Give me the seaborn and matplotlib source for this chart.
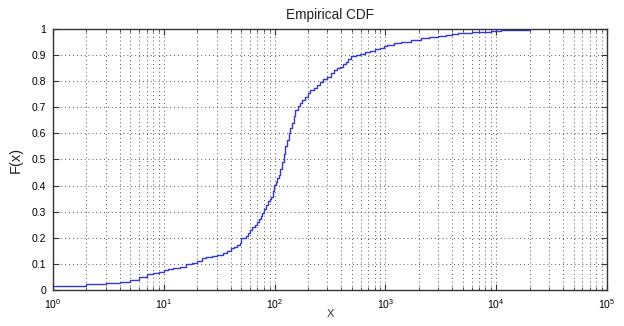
import matplotlib
matplotlib.use("Agg")
import matplotlib.pyplot as plt
import seaborn as sns
from matplotlib.ticker import LogLocator, NullFormatter, MultipleLocator, FormatStrFormatter

# Empirical CDF sample points (x value, cumulative fraction)
x_values = [1, 2, 3, 4, 5, 6, 7, 8, 9, 10, 11, 12, 14, 16, 18, 20, 22, 24, 27,
            30, 34, 37, 40, 43, 46, 49, 50, 55, 58, 60, 63, 66, 69, 72, 75, 77,
            80, 83, 87, 90, 93, 96, 98, 102, 106, 110, 113, 117, 121, 125, 129,
            134, 139, 144, 149, 154, 162, 170, 178, 190, 200, 210, 225, 240, 258,
            275, 298, 320, 342, 365, 392, 415, 437, 460, 486, 540, 596, 660, 733,
            810, 900, 970, 1040, 1200, 1370, 1700, 2100, 2500, 3000, 3500, 4000,
            4500, 6000, 7500, 9000, 11000, 20000]
cdf_values = [0.015, 0.023, 0.027, 0.031, 0.038, 0.051, 0.061, 0.065, 0.070, 0.075,
              0.079, 0.083, 0.089, 0.098, 0.105, 0.113, 0.122, 0.128, 0.131, 0.136,
              0.142, 0.148, 0.160, 0.166, 0.172, 0.179, 0.198, 0.208, 0.218, 0.230,
              0.240, 0.250, 0.262, 0.272, 0.285, 0.294, 0.310, 0.326, 0.340, 0.350,
              0.357, 0.380, 0.402, 0.415, 0.430, 0.440, 0.465, 0.490, 0.520, 0.550,
              0.575, 0.600, 0.620, 0.639, 0.665, 0.690, 0.705, 0.715, 0.728, 0.740,
              0.755, 0.766, 0.775, 0.787, 0.798, 0.808, 0.817, 0.830, 0.843, 0.850,
              0.856, 0.866, 0.875, 0.886, 0.897, 0.899, 0.903, 0.910, 0.917, 0.922,
              0.926, 0.933, 0.939, 0.946, 0.952, 0.958, 0.964, 0.968, 0.972, 0.976,
              0.980, 0.984, 0.987, 0.990, 0.994, 0.997, 1.000]

sns.set_theme(style="white")
plt.rcParams["font.family"] = ["Liberation Sans", "DejaVu Sans"]
plt.rcParams["mathtext.fontset"] = "custom"
plt.rcParams["mathtext.rm"] = "Liberation Sans"
plt.rcParams["mathtext.it"] = "Liberation Sans"

fig = plt.figure(figsize=(6.24, 3.26), dpi=100)
fig.patch.set_facecolor("white")
ax = fig.add_axes([53 / 624, 1 - 290 / 326, 554 / 624, 261 / 326])

sns.lineplot(x=x_values, y=cdf_values, ax=ax, drawstyle="steps-post",
             estimator=None, color="#3535dc", linewidth=1.0)

ax.set_xscale("log")
ax.set_xlim(1, 1e5)
ax.set_ylim(0, 1)

ax.xaxis.set_major_locator(LogLocator(base=10, numticks=10))
ax.xaxis.set_minor_locator(LogLocator(base=10, subs=range(2, 10), numticks=100))
ax.xaxis.set_minor_formatter(NullFormatter())
ax.yaxis.set_major_locator(MultipleLocator(0.1))
ax.yaxis.set_major_formatter(FormatStrFormatter("%g"))

grid_kw = dict(color="#555555", linestyle=(0, (1, 3)), linewidth=0.7)
ax.grid(True, which="major", axis="both", **grid_kw)
ax.grid(True, which="minor", axis="x", **grid_kw)
ax.set_axisbelow(True)

for side in ax.spines.values():
    side.set_color("#333333")
    side.set_linewidth(1.0)

ax.tick_params(which="both", direction="in", top=True, right=True,
               bottom=True, left=True, colors="#333333", labelcolor="black")
ax.tick_params(which="major", length=4, width=0.8, labelsize=7.5, pad=5)
ax.tick_params(which="minor", length=2.5, width=0.6)

ax.set_title("Empirical CDF", fontsize=9.8, color="#222222", pad=7)
ax.set_xlabel("X", fontsize=8, color="#333333", labelpad=-1)
ax.set_ylabel("F(x)", fontsize=10.5, color="#222222", labelpad=6)

fig.savefig("out.png", dpi=100, facecolor="white")
